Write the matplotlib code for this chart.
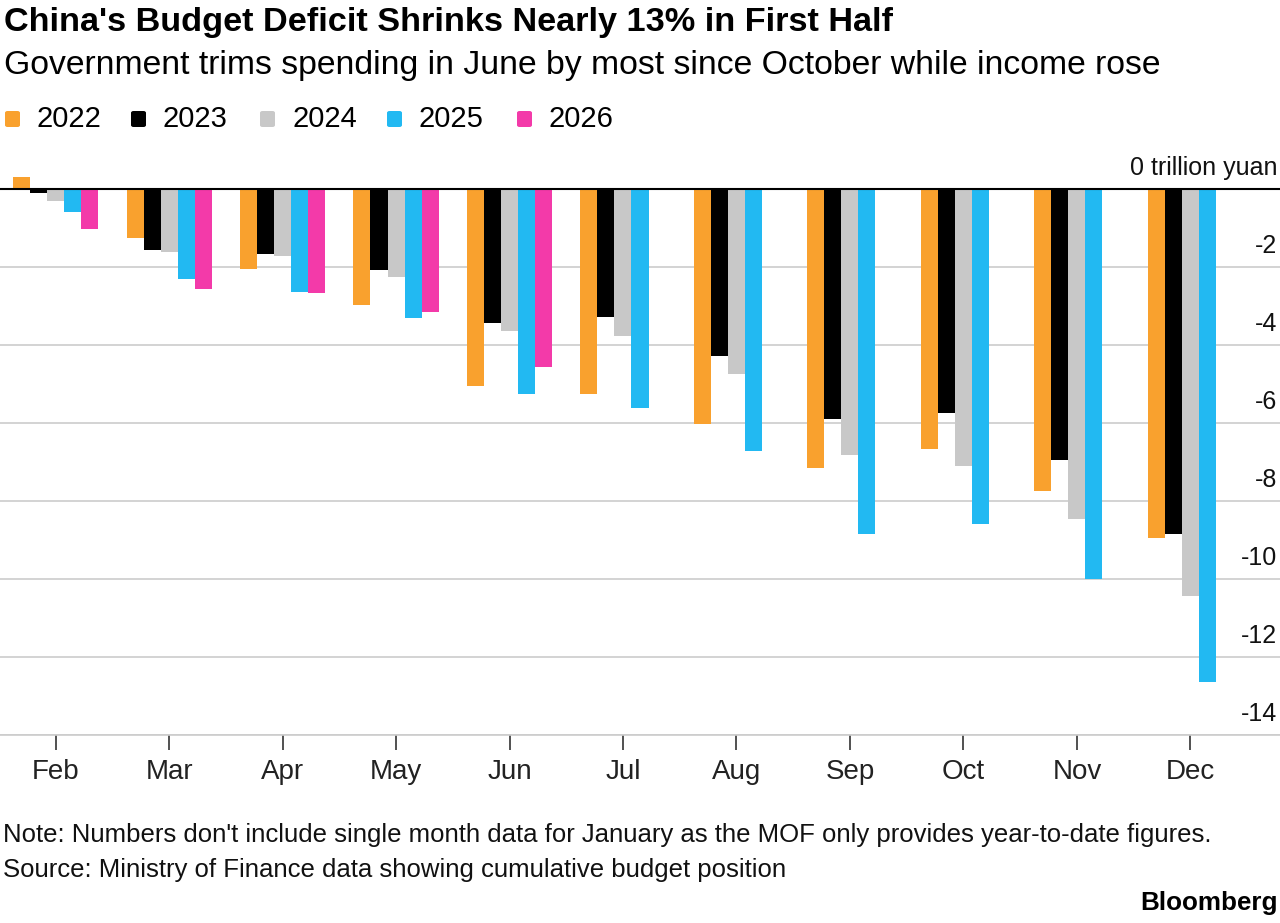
import matplotlib
matplotlib.use("Agg")
import matplotlib.pyplot as plt
import matplotlib.transforms as mtransforms
from matplotlib.patches import FancyBboxPatch
import numpy as np

months = ["Feb", "Mar", "Apr", "May", "Jun", "Jul", "Aug", "Sep", "Oct", "Nov", "Dec"]
years = ["2022", "2023", "2024", "2025", "2026"]
colors = ["#f9a12e", "#000000", "#c8c8c8", "#22b9f2", "#f33aa9"]

# cumulative budget position, trillion yuan
y2022 = [0.30, -1.25, -2.05, -2.97, -5.05, -5.26, -6.02, -7.16, -6.66, -7.74, -8.96]
y2023 = [-0.10, -1.57, -1.66, -2.09, -3.44, -3.29, -4.28, -5.90, -5.74, -6.96, -8.85]
y2024 = [-0.30, -1.62, -1.73, -2.25, -3.63, -3.76, -4.74, -6.83, -7.10, -8.47, -10.43]
y2025 = [-0.60, -2.31, -2.65, -3.30, -5.26, -5.61, -6.73, -8.85, -8.58, -9.99, -12.65]
y2026 = [-1.03, -2.56, -2.67, -3.16, -4.57]
series = [y2022, y2023, y2024, y2025, y2026]

yticks = [0, -2, -4, -6, -8, -10, -12, -14]
ytick_labels = ["0 trillion yuan", "-2", "-4", "-6", "-8", "-10", "-12", "-14"]

plt.rcParams["font.family"] = ["Liberation Sans", "DejaVu Sans"]

fig = plt.figure(figsize=(12.8, 9.23), dpi=100)
ax = fig.add_axes([0.0, 0.2037, 1.0, 0.6169])

x = np.arange(len(months))
w = 0.15
for i, (vals, c) in enumerate(zip(series, colors)):
    xs = x[:len(vals)] + (i - 2) * w
    ax.bar(xs, vals, width=w, color=c, linewidth=0, zorder=3)

ax.set_xlim(-0.49, 10.79)
ax.set_ylim(-14, 0.6)

# gridlines and labels sitting above them on the right
trans = mtransforms.blended_transform_factory(ax.transAxes, ax.transData)
for v, lab in zip(yticks, ytick_labels):
    if v == 0:
        ax.axhline(0, color="black", linewidth=1.5, zorder=4)
    else:
        ax.axhline(v, color="#cccccc", linewidth=1.2, zorder=1)
    ax.text(0.998, v + 0.22, lab, transform=trans, ha="right", va="bottom",
            fontsize=18, color="#111111")

for s in ["top", "right", "left"]:
    ax.spines[s].set_visible(False)
ax.spines["bottom"].set_color("#cccccc")
ax.spines["bottom"].set_linewidth(1.2)
ax.set_yticks([])
ax.set_xticks(x)
ax.set_xticklabels(months, fontsize=20, color="#222222")
ax.tick_params(axis="x", length=11, width=1.2, color="#333333", pad=6)

# titles
fig.text(0.003, 0.992, "China's Budget Deficit Shrinks Nearly 13% in First Half",
         fontsize=24.7, fontweight="bold", ha="left", va="top")
fig.text(0.003, 0.946, "Government trims spending in June by most since October while income rose",
         fontsize=24.3, ha="left", va="top")

# legend
leg_x = [5, 131, 260, 387, 517]
for lx, yr, c in zip(leg_x, years, colors):
    fig.patches.append(FancyBboxPatch((lx / 1280, (923 - 127) / 923), 15 / 1280, 16 / 923,
                                      boxstyle="round,pad=0,rounding_size=0.002",
                                      transform=fig.transFigure, color=c, linewidth=0))
    fig.text((lx + 32) / 1280, (923 - 119) / 923, yr, fontsize=21, ha="left", va="center")

fig.text(0.002, (923 - 835) / 923,
         "Note: Numbers don't include single month data for January as the MOF only provides year-to-date figures.",
         fontsize=18.5, ha="left", va="center", color="#111111")
fig.text(0.002, (923 - 870) / 923,
         "Source: Ministry of Finance data showing cumulative budget position",
         fontsize=18.5, ha="left", va="center", color="#111111")
fig.text(0.998, (923 - 903) / 923, "Bloomberg", fontsize=18.7, fontweight="bold",
         ha="right", va="center")

fig.savefig("out.png", dpi=100)
